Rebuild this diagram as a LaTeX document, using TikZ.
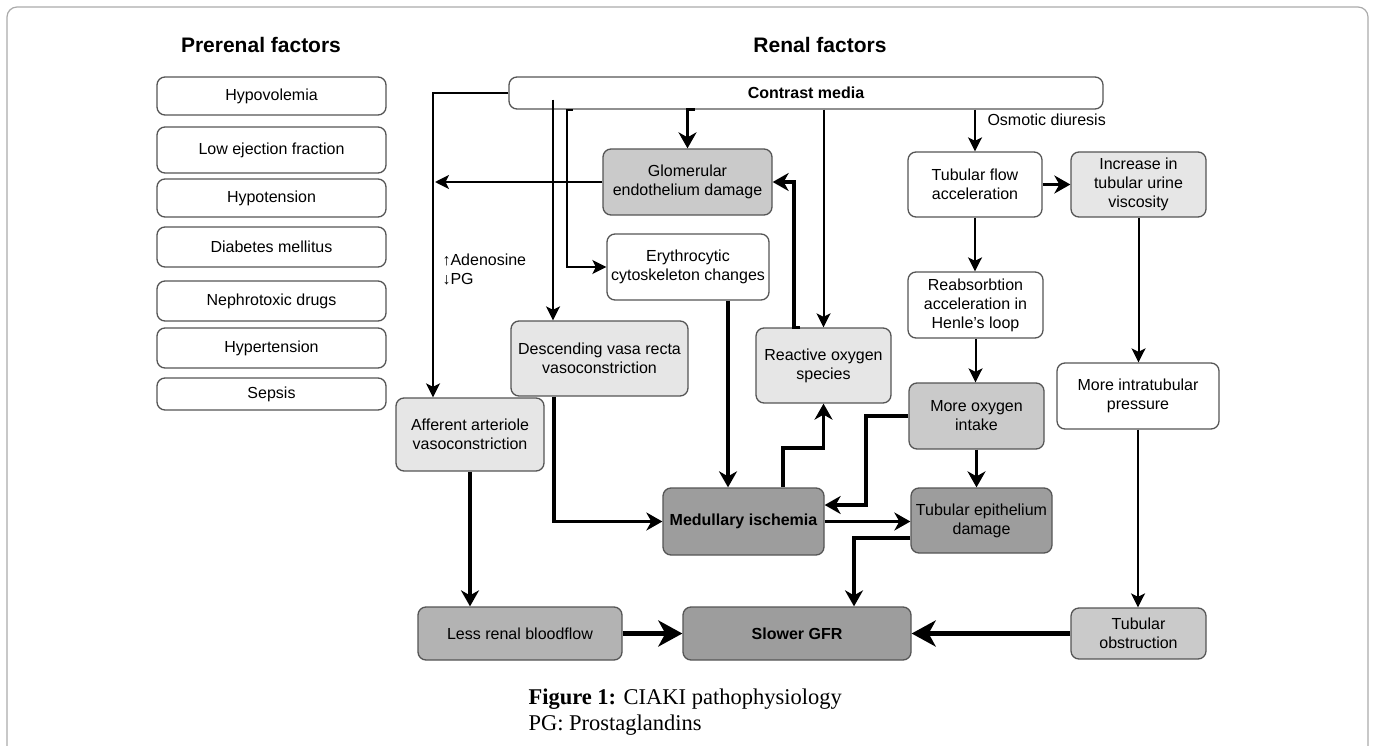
\documentclass[tikz,border=0pt]{standalone}
\usepackage{fontspec}
\setmainfont{Liberation Sans}
\newfontfamily\captionfont{Liberation Serif}
\usepackage{xcolor}
\usepackage{tikz}
\usetikzlibrary{arrows.meta, calc}
\definecolor{ciaki-line}{HTML}{555555}
\definecolor{ciaki-frame}{HTML}{AAAAAA}
\definecolor{ciaki-light}{HTML}{E6E6E6}
\definecolor{ciaki-mid}{HTML}{CACACA}
\definecolor{ciaki-lrb}{HTML}{B3B3B3}
\definecolor{ciaki-dark}{HTML}{9D9D9D}

\tikzset{
    box/.style={draw=ciaki-line, line width=1.3pt, rounded corners=8pt, align=center,
        inner sep=2pt, font=\fontsize{16}{19}\selectfont},
    factor/.style={box, minimum width=229},
    title/.style={font=\bfseries\fontsize{21}{24}\selectfont},
    conn/.style={draw, line width=2pt, -{Stealth[length=14pt, width=14pt, inset=3.5pt]}},
    thickconn/.style={conn, line width=3.2pt, -{Stealth[length=16pt, width=18pt, inset=5pt]}},
    bigconn/.style={conn, line width=4.5pt, -{Stealth[length=24pt, width=26pt, inset=7pt]}}
}

\begin{document}
\begin{tikzpicture}[x=1pt, y=-1pt]
    \useasboundingbox (0,0) rectangle (1375,746);
    % Outer frame
    \draw[ciaki-frame, line width=1.2pt, rounded corners=10pt] (7,746) -- (7,7) -- (1368,7) -- (1368,746);

    % Headings
    \node[title] (prerenal) at (261,45) {Prerenal factors};
    \node[title] (renal) at (820,45) {Renal factors};

    % Prerenal factors
    \node[factor, minimum height=38] (hypovol) at (271.5,96) {Hypovolemia};
    \node[factor, minimum height=46] (lowef) at (271.5,150) {Low ejection fraction};
    \node[factor, minimum height=38] (hypoten) at (271.5,198) {Hypotension};
    \node[factor, minimum height=40] (diabetes) at (271.5,247) {Diabetes mellitus};
    \node[factor, minimum height=40] (nephro) at (271.5,301) {Nephrotoxic drugs};
    \node[factor, minimum height=40] (hyperten) at (271.5,348) {Hypertension};
    \node[factor, minimum height=32] (sepsis) at (271.5,394) {Sepsis};

    % Renal factors
    \node[box, minimum width=594, minimum height=32, font=\bfseries\fontsize{16}{19}\selectfont] (contrast) at (806,93) {Contrast media};
    \node[box, fill=ciaki-mid, minimum width=169, minimum height=66] (glom) at (687.5,182) {Glomerular\\endothelium damage};
    \node[box, minimum width=162, minimum height=66] (ery) at (688,267) {Erythrocytic\\cytoskeleton changes};
    \node[box, fill=ciaki-light, minimum width=177, minimum height=75] (descend) at (599.5,358.5) {Descending vasa recta\\vasoconstriction};
    \node[box, fill=ciaki-light, minimum width=148, minimum height=73] (afferent) at (470,434.5) {Afferent arteriole\\vasoconstriction};
    \node[box, fill=ciaki-light, minimum width=135, minimum height=75] (ros) at (823.5,365.5) {Reactive oxygen\\species};
    \node[box, fill=ciaki-dark, minimum width=161, minimum height=67, font=\bfseries\fontsize{16}{19}\selectfont] (medul) at (743.5,521.5) {Medullary ischemia};
    \node[box, minimum width=134, minimum height=65] (tflow) at (975,184.5) {Tubular flow\\acceleration};
    \node[box, fill=ciaki-light, minimum width=135, minimum height=65] (visc) at (1138.5,184.5) {Increase in\\tubular urine\\viscosity};
    \node[box, minimum width=135, minimum height=66] (reabs) at (975.5,305) {Reabsorbtion\\acceleration in\\Henle's loop};
    \node[box, minimum width=162, minimum height=66] (intrap) at (1138,396) {More intratubular\\pressure};
    \node[box, fill=ciaki-mid, minimum width=135, minimum height=66] (oxy) at (976.5,416) {More oxygen\\intake};
    \node[box, fill=ciaki-dark, minimum width=141, minimum height=65] (tepi) at (981.5,520.5) {Tubular epithelium\\damage};
    \node[box, fill=ciaki-mid, minimum width=135, minimum height=51] (tobst) at (1138.5,633.5) {Tubular\\obstruction};
    \node[box, fill=ciaki-lrb, minimum width=204, minimum height=53] (lrb) at (520,633.5) {Less renal bloodflow};
    \node[box, fill=ciaki-dark, minimum width=228, minimum height=53, font=\bfseries\fontsize{16}{19}\selectfont] (gfr) at (797,633.5) {Slower GFR};

    % Labels on connectors
    \node[anchor=west, align=left, font=\fontsize{16}{19}\selectfont] (adeno) at (439,269) {↑Adenosine\\↓PG};
    \node[anchor=west, font=\fontsize{16}{19}\selectfont] (osmotic) at (984,120) {Osmotic diuresis};

    % Connectors from contrast media
    \draw[conn] (contrast.west) -| (afferent.north -| 433,0);
    \draw[conn] (contrast.south -| 553,0) ++(0,-10) -- (descend.north -| 553,0);
    \draw[conn] (contrast.south -| 573,0) -| (ery.west -| 567,0) -- (ery.west);
    \draw[thickconn] (contrast.south -| 695,0) -| (glom.north);
    \draw[conn] (contrast.south -| ros.north) -- (ros.north);
    \draw[conn] (contrast.south -| tflow.north) -- (tflow.north);

    % Vascular side
    \draw[conn] (glom.west) -- (glom.west -| 435,0);
    \draw[thickconn] (ros.north -| 800,0) -- (ros.north -| 794,0) |- (glom.east);
    \draw[thickconn] (ery.south -| 728,0) -- (medul.north -| 728,0);
    \draw[thickconn] (descend.south -| 554,0) |- (medul.west);
    \draw[thickconn] (medul.north -| 783,0) |- (ros.south |- 0,448) -- (ros.south);
    \draw[thickconn] (afferent.south) -- (afferent.south |- lrb.north);
    \draw[bigconn] (lrb.east) -- (gfr.west);

    % Tubular side
    \draw[thickconn] (tflow.east) -- (visc.west);
    \draw[conn] (tflow.south) -- (tflow.south |- reabs.north);
    \draw[conn] (reabs.south) -- (reabs.south |- oxy.north);
    \draw[conn] (visc.south) -- (visc.south |- intrap.north);
    \draw[conn] (intrap.south) -- (intrap.south |- tobst.north);
    \draw[thickconn] (oxy.south) -- (oxy.south |- tepi.north);
    \draw[thickconn] (oxy.west) -- (oxy.west -| 866,0) |- (medul.east |- 0,505);
    \draw[thickconn] (medul.east) -- (medul.east -| tepi.west);
    \draw[thickconn] (tepi.west |- 0,538) -| (gfr.north -| 854,0);
    \draw[bigconn] (tobst.west) -- (gfr.east);

    % Caption
    \node[anchor=west, align=left, font=\captionfont\fontsize{22.5}{26}\selectfont] (caption) at (525,712) {\textbf{Figure 1:} CIAKI pathophysiology\\PG: Prostaglandins};
\end{tikzpicture}
\end{document}
